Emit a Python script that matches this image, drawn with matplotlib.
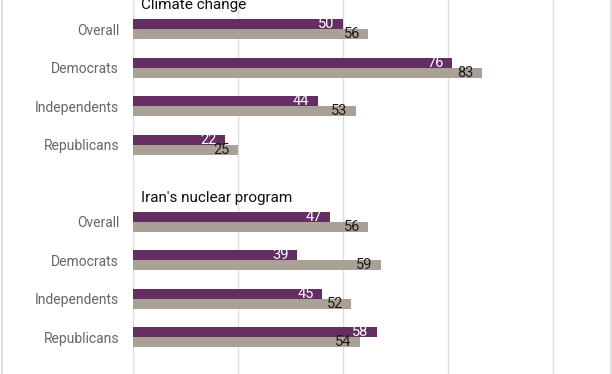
import numpy as np
import matplotlib
matplotlib.use("Agg")
import matplotlib.pyplot as plt
from matplotlib.lines import Line2D

plt.rcParams['font.family'] = ['Roboto', 'DejaVu Sans']

topics = ["Climate change", "Iran's nuclear program"]
groups = ["Overall", "Democrats", "Independents", "Republicans"]
climate_first = [50, 76, 44, 22]
climate_second = [56, 83, 53, 25]
iran_first = [47, 39, 45, 58]
iran_second = [56, 59, 52, 54]

purple = "#642e63"
grey = "#a9a196"

fig = plt.figure(figsize=(6.12, 3.74), dpi=100)
ax = fig.add_axes([133 / 612, 0, (611 - 133) / 612, 1])

rows = [np.arange(4), np.arange(4) + 5]
firsts = [climate_first, iran_first]
seconds = [climate_second, iran_second]
h = 0.255

for topic, r, a, b in zip(topics, rows, firsts, seconds):
    ax.barh(r - h / 2, a, height=h, color=purple, zorder=3)
    ax.barh(r + h / 2, b, height=h, color=grey, zorder=3)
    for y, v in zip(r, a):
        ax.annotate(str(v), (v, y - h / 2), xytext=(-6, 0), textcoords="offset points",
                    ha="right", va="center", color="white", fontsize=10.5, zorder=4)
    for y, v in zip(r, b):
        ax.annotate(str(v), (v, y + h / 2), xytext=(-6, 0), textcoords="offset points",
                    ha="right", va="center", color="#1a1a1a", fontsize=10.5, zorder=4)
    ax.text(2, r[0] - 0.52, topic, ha="left", va="baseline", fontsize=11, color="#111111")

ax.set_yticks(np.concatenate(rows))
ax.set_yticklabels(groups + groups, fontsize=10, color="#666666")
ax.tick_params(axis="y", length=0, pad=10)
ax.set_xticks([0, 25, 50, 75, 100])
ax.tick_params(axis="x", length=0, labelbottom=False)
ax.xaxis.grid(True, color="#dedede", linewidth=1, zorder=0)
ax.set_xlim(0, (611 - 133) / 4.2)
ax.set_ylim(8.953, -0.761)
for s in ax.spines.values():
    s.set_visible(False)

fig.add_artist(Line2D([1.5 / 612, 1.5 / 612], [0, 1], color="#d8d8d8", linewidth=1.2))
fig.add_artist(Line2D([610.5 / 612, 610.5 / 612], [0, 1], color="#d8d8d8", linewidth=1.2))

fig.savefig("out.png", dpi=100)
